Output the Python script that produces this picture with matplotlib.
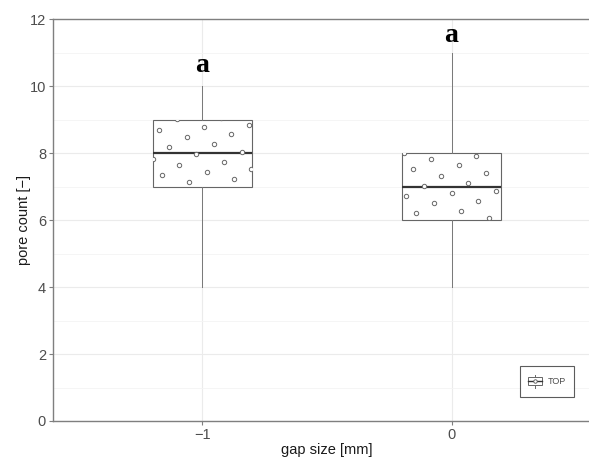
import matplotlib
matplotlib.use("Agg")
import matplotlib.pyplot as plt
import numpy as np
from matplotlib.legend_handler import HandlerBase
from matplotlib.patches import Rectangle
from matplotlib.lines import Line2D

plt.rcParams['font.family'] = ['Liberation Sans', 'DejaVu Sans']

categories = ["\u22121", "0"]
q1 = [7, 6]
medians = [8, 7]
q3 = [9, 8]
whis_lo = [4, 4]
whis_hi = [10, 11]
letters = ["a", "a"]
letter_y = [10.62, 11.53]

pts_dx_1 = [-0.103, 0.075, -0.174, 0.005, 0.185, 0.115, -0.064, -0.133, 0.047, -0.200,
            -0.024, 0.158, 0.086, -0.094, 0.194, -0.162, 0.017, 0.127, -0.055]
pts_y_1 = [9.01, 9.04, 8.70, 8.79, 8.85, 8.57, 8.48, 8.19, 8.26, 7.83,
           7.97, 8.03, 7.74, 7.66, 7.52, 7.36, 7.43, 7.23, 7.15]
pts_dx_2 = [-0.192, -0.082, 0.098, -0.154, 0.029, 0.137, -0.041, 0.068, -0.111, 0.0,
            0.180, -0.184, 0.107, -0.072, 0.039, -0.142, 0.149]
pts_y_2 = [8.02, 7.84, 7.93, 7.54, 7.64, 7.41, 7.33, 7.10, 7.02, 6.81,
           6.88, 6.71, 6.58, 6.50, 6.27, 6.21, 6.07]
pts_dx = [pts_dx_1, pts_dx_2]
pts_y = [pts_y_1, pts_y_2]

W, H = 589, 457
fig = plt.figure(figsize=(W / 100, H / 100), dpi=100)
ax = fig.add_axes([53 / W, (H - 421) / H, 548 / W, (421 - 19.3) / H])

edge = '#666666'
pos = [1, 2]
box_w = 0.4
stats = []
for i in range(2):
    stats.append(dict(med=medians[i], q1=q1[i], q3=q3[i], whislo=whis_lo[i],
                      whishi=whis_hi[i], fliers=[]))
res = ax.bxp(stats, positions=pos, widths=box_w, patch_artist=True, showcaps=False,
             boxprops=dict(facecolor='white', edgecolor=edge, linewidth=0.8),
             whiskerprops=dict(color='#777777', linewidth=0.7),
             medianprops=dict(color='#333333', linewidth=1.6), zorder=3)

for i in range(2):
    clip = Rectangle((pos[i] - box_w / 2, q1[i]), box_w, q3[i] - q1[i],
                     transform=ax.transData, facecolor='none', edgecolor='none')
    ax.add_patch(clip)
    xs = [pos[i] + d for d in pts_dx[i]]
    sc = ax.scatter(xs, pts_y[i], s=10, facecolor='white', edgecolor='#666666',
                    linewidths=0.7, zorder=4)
    sc.set_clip_path(clip)
    ax.text(pos[i], letter_y[i], letters[i], ha='center', va='center',
            fontsize=20, fontweight='bold', family='Liberation Serif', zorder=5)

ax.set_xlim(0.4, 2.6)
ax.set_ylim(0, 12)
ax.set_xticks(pos)
ax.set_xticklabels(categories)
ax.set_yticks(np.arange(0, 13, 2))
ax.set_yticks(np.arange(1, 12, 2), minor=True)
ax.grid(True, which='major', color='#ebebeb', linewidth=0.8, zorder=0)
ax.grid(True, which='minor', axis='y', color='#f4f4f4', linewidth=0.6, zorder=0)
ax.set_axisbelow(True)
for s in ['top', 'bottom', 'left', 'right']:
    ax.spines[s].set_color('#7f7f7f')
    ax.spines[s].set_linewidth(1.0)
ax.tick_params(axis='both', which='major', colors='#7f7f7f', length=3, width=0.8,
               labelcolor='#4d4d4d', labelsize=10.5)
ax.tick_params(axis='x', which='major', pad=2)
ax.tick_params(axis='y', which='major', pad=2)
ax.tick_params(axis='y', which='minor', length=0)
ax.set_xlabel("gap size [mm]", fontsize=10.5, color='#1a1a1a', labelpad=1)
ax.set_ylabel("pore count [\u2212]", fontsize=10.5, color='#1a1a1a', labelpad=-1)


class BoxHandler(HandlerBase):
    def create_artists(self, legend, orig_handle, xdescent, ydescent, width, height,
                       fontsize, trans):
        cx = width / 2 - xdescent
        bw = width * 0.95
        bh = height * 0.55
        cy = height / 2 - ydescent
        arts = []
        arts.append(Line2D([cx, cx], [cy - height * 0.45, cy + height * 0.45],
                           color=edge, lw=0.7, transform=trans))
        arts.append(Rectangle((cx - bw / 2, cy - bh / 2), bw, bh, facecolor='white',
                              edgecolor=edge, lw=0.7, transform=trans))
        arts.append(Line2D([cx - bw / 2, cx + bw / 2], [cy, cy], color='#333333', lw=1.0,
                           transform=trans))
        arts.append(Line2D([cx], [cy], marker='o', ms=2.5, mfc='white', mec='#555555',
                           mew=0.6, transform=trans))
        return arts


handle = Rectangle((0, 0), 1, 1)
leg = ax.legend([handle], ["TOP"], handler_map={Rectangle: BoxHandler()},
                loc='lower left', bbox_to_anchor=(520 / W, (H - 397) / H),
                bbox_transform=fig.transFigure, fontsize=6.5, frameon=True,
                fancybox=False, handlelength=1.6, handleheight=2.2,
                borderpad=0.9, handletextpad=0.6, borderaxespad=0)
leg.get_frame().set_edgecolor('#333333')
leg.get_frame().set_linewidth(0.8)
for t in leg.get_texts():
    t.set_color('#4d4d4d')

fig.savefig("out.png", dpi=100)
